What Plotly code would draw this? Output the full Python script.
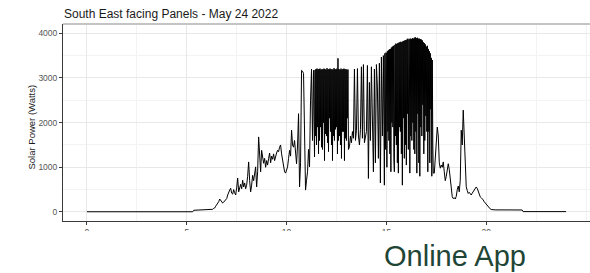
import numpy as np
import plotly.graph_objects as go

# ---- data ----
title_text = "South East facing Panels - May 24 2022"
y_title = "Solar Power (Watts)"
watermark = "Online App"

# night / flat parts (hour, watts)
am_hours = [0.0, 5.30, 5.35, 6.25]
am_watts = [5, 5, 38, 45]
pm_hours = [20.45, 21.80, 21.85, 24.0]
pm_watts = [47, 45, 8, 8]

# segment A: from 6.30 h every 0.05 h
segA_start, segA_step = 6.30, 0.05
segA_watts = [
    60, 80, 90, 130, 160, 200, 230, 290, 250, 210, 200, 220, 240, 260,
    300, 380, 450, 490, 530, 420, 400, 500, 430, 380, 540, 760, 450, 560, 620, 520, 710, 560, 650, 520,
    600, 800, 1120, 700, 450, 600, 820, 700, 900, 1010, 560, 900, 1680, 1150, 900, 1380, 1250, 1090, 1200, 1000,
    1150, 1050, 1200, 1320, 1100, 1250, 1180, 1300, 1150, 1280, 1320, 1380, 1350, 1450, 1500, 1300, 1150, 1010, 900, 870,
    950, 1010, 1200, 1380, 1250, 1830, 1500, 1450, 1600, 1300, 1080, 1500, 2200, 560, 1100, 3170, 3150, 3100, 1200, 490,
    710, 900, 1400, 1010, 2500, 3200, 1600, 3170,
]

# segment B: from 11.40 h every 0.025 h (dense cloud-flicker block)
segB_start, segB_step = 11.40, 0.025
segB_watts = [
    1230, 3180, 1700, 3200, 1500, 3210, 1900, 3190, 1300, 3200,
    1600, 3210, 1900, 3180, 1450, 3200, 1400, 3190, 2000, 3210,
    1150, 3200, 1750, 3180, 1700, 3220, 1550, 3190, 1350, 3200,
    2100, 3210, 1800, 3190, 1500, 3200, 1150, 3180, 1700, 3220,
    1600, 3200, 1850, 3190, 1900, 3210, 1300, 3440, 1600, 3200,
    1700, 3180, 1500, 3210, 1200, 3190, 1800, 3200, 1800, 3210,
    1150, 3190, 1650, 3200, 1600, 3180, 2100, 3190, 1400,
]

# segment C: from 13.15 h every 0.05 h
segC_start, segC_step = 13.15, 0.05
segC_watts = [
    1460, 1700, 1550, 1800, 1650, 3200, 1600, 1830, 3210, 1700, 1500, 1850, 3250, 1650, 3300, 1550, 1750,
    1800, 3280, 750, 2900, 1600, 3250, 1500, 900, 3200, 1100, 3300, 2800, 1200, 3330, 650, 3470, 1700, 3500,
]

# segment D: from 14.90 h every 0.025 h (dense afternoon block)
segD_start, segD_step = 14.90, 0.025
segD_watts = [
    600, 3550, 1400, 3570, 3560, 1000, 3600, 1800, 3620, 1600,
    3640, 1300, 3650, 900, 3680, 2000, 3700, 1900, 3720, 1200,
    900, 3740, 1700, 3770, 1500, 3760, 1100, 3780, 870, 3790,
    1900, 3800, 1800, 3810, 1300, 3800, 600, 3820, 2100, 3830,
    1200, 3840, 1500, 3850, 1050, 3860, 2200, 3880, 1400, 3860,
    3870, 870, 3880, 1700, 3870, 1600, 3890, 2000, 3880, 1400,
    3900, 1300, 3910, 1800, 3890, 870, 3900, 2200, 3880, 1100,
    3880, 800, 3870, 1900, 3860, 1700, 3840, 2400, 3800, 1300,
    3780, 1600, 3750, 2150, 3700, 1800, 3720, 900, 3650, 1800,
    3600, 1100, 3550, 2300, 3450, 800, 3400, 1500, 870,
]

# segment E: from 17.40 h every 0.05 h
segE_start, segE_step = 17.40, 0.05
segE_watts = [
    870, 1300, 1500, 1900, 1700, 1100, 980, 1050, 1000, 1120, 900, 700,
    800, 1010, 1080, 950, 700, 550, 340, 300, 320, 290, 350, 500, 580, 450, 710, 1830, 1500, 2280, 1600, 1160,
    565, 480, 415, 440, 400, 380, 420, 450, 490, 510, 560, 530, 450, 360, 340, 320, 300, 270, 230, 200,
    170, 140, 120, 90, 70, 55, 50, 48, 48,
]

x_ticks = [0, 5, 10, 15, 20]
y_ticks = [0, 1000, 2000, 3000, 4000]


def seg_hours(start, step, vals):
    return [round(start + i * step, 3) for i in range(len(vals))]


hours = (am_hours
         + seg_hours(segA_start, segA_step, segA_watts)
         + seg_hours(segB_start, segB_step, segB_watts)
         + seg_hours(segC_start, segC_step, segC_watts)
         + seg_hours(segD_start, segD_step, segD_watts)
         + seg_hours(segE_start, segE_step, segE_watts)
         + pm_hours)
watts = am_watts + segA_watts + segB_watts + segC_watts + segD_watts + segE_watts + pm_watts

# ---- figure ----
W, H = 590, 273
ML, MR, MT, MB = 63, 0, 24, 52
FONT = "Liberation Sans, Arial, sans-serif"

fig = go.Figure()
fig.add_trace(go.Scatter(x=hours, y=watts, mode="lines",
                         line=dict(color="#000000", width=1),
                         hoverinfo="skip", showlegend=False))

grid = "#e8e8e8"
fig.update_layout(
    width=W, height=H,
    margin=dict(l=ML, r=MR, t=MT, b=MB),
    paper_bgcolor="white", plot_bgcolor="white",
    showlegend=False,
    font=dict(family=FONT),
    xaxis=dict(range=[-1.2, 25.2], tickvals=x_ticks, ticktext=[str(v) for v in x_ticks],
               showgrid=True, gridcolor=grid, gridwidth=1,
               minor=dict(dtick=2.5, tick0=0, showgrid=True, gridcolor="#f3f3f3", gridwidth=1),
               zeroline=False, showline=True, linecolor="#3a3a3a", linewidth=1,
               ticks="outside", ticklen=3, tickcolor="#3a3a3a", tickwidth=1,
               tickfont=dict(size=8.5, color="#555555", family=FONT)),
    yaxis=dict(range=[-202, 4208], tickvals=y_ticks, ticktext=[str(v) for v in y_ticks],
               showgrid=True, gridcolor=grid, gridwidth=1,
               minor=dict(dtick=500, tick0=0, showgrid=True, gridcolor="#f3f3f3", gridwidth=1),
               zeroline=False, showline=True, linecolor="#3a3a3a", linewidth=1,
               ticks="outside", ticklen=3, tickcolor="#3a3a3a", tickwidth=1,
               tickfont=dict(size=8.5, color="#555555", family=FONT)),
)

pw = W - ML - MR
ph = H - MT - MB


def px_x(px):
    return (px - ML) / pw


def px_y(py):
    return (H - MB - py) / ph


# top border of the panel (light grey)
fig.add_shape(type="line", xref="paper", yref="paper", x0=0, x1=1, y0=1, y1=1,
              line=dict(color="#c4c4c4", width=2), layer="above")
# white cover hiding the lower half of the x tick labels
fig.add_shape(type="rect", xref="paper", yref="paper",
              x0=px_x(0) - 0.01, x1=1.01, y0=px_y(H + 5), y1=px_y(231),
              fillcolor="white", line=dict(width=0), layer="above")

# title
fig.add_annotation(text=title_text, xref="paper", yref="paper",
                   x=px_x(62), y=px_y(13.5), xanchor="left", yanchor="middle",
                   showarrow=False, font=dict(size=12, color="#1a1a1a", family=FONT))
# y axis title
fig.add_annotation(text=y_title, xref="paper", yref="paper",
                   x=px_x(30.5), y=px_y(127), xanchor="center", yanchor="middle",
                   textangle=-90, showarrow=False,
                   font=dict(size=9.5, color="#1a1a1a", family=FONT))
# watermark text
fig.add_annotation(text=watermark, xref="paper", yref="paper",
                   x=px_x(455), y=px_y(256), xanchor="center", yanchor="middle",
                   showarrow=False, font=dict(size=29, color="#1f4536", family=FONT))

fig.write_html("out.html", config={"displayModeBar": False},
               post_script="document.body.style.margin='0';")
